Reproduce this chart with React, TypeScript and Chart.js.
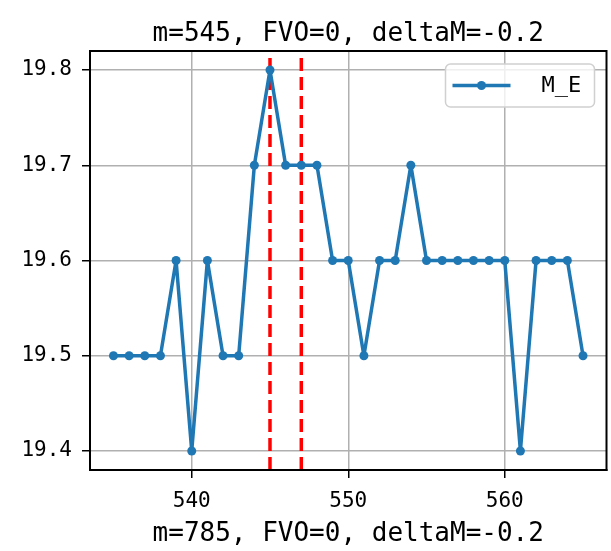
import React, { useEffect, useRef } from "react";
import { Chart, registerables } from "chart.js";

Chart.register(...registerables);

const mValues = [535, 536, 537, 538, 539, 540, 541, 542, 543, 544, 545, 546, 547, 548, 549, 550, 551, 552, 553, 554, 555, 556, 557, 558, 559, 560, 561, 562, 563, 564, 565];
const meValues = [19.5, 19.5, 19.5, 19.5, 19.6, 19.4, 19.6, 19.5, 19.5, 19.7, 19.8, 19.7, 19.7, 19.7, 19.6, 19.6, 19.5, 19.6, 19.6, 19.7, 19.6, 19.6, 19.6, 19.6, 19.6, 19.6, 19.4, 19.6, 19.6, 19.6, 19.5];
const markerLines = [545, 547];
const xTickValues = [540, 550, 560];
const yTickValues = [19.4, 19.5, 19.6, 19.7, 19.8];
const xLimits = [533.5, 566.5];
const yLimits = [19.38, 19.82];
const chartTitle = "m=545, FVO=0, deltaM=-0.2";
const xAxisTitle = "m=785, FVO=0, deltaM=-0.2";
const seriesLabel = "M_E";

const FONT = "'DejaVu Sans Mono', monospace";
const BLUE = "#1f77b4";

const framePlugin = {
  id: "frame",
  afterDatasetsDraw(chart: any) {
    const { ctx, chartArea: a } = chart;
    ctx.save();
    ctx.strokeStyle = "#000";
    ctx.lineWidth = 2;
    ctx.strokeRect(a.left, a.top, a.right - a.left, a.bottom - a.top);
    ctx.restore();
  },
};

const titlePlugin = {
  id: "areaTitle",
  afterDraw(chart: any) {
    const { ctx, chartArea: a } = chart;
    ctx.save();
    ctx.fillStyle = "#000";
    ctx.font = `26px ${FONT}`;
    ctx.textAlign = "center";
    ctx.textBaseline = "alphabetic";
    ctx.fillText(chartTitle, (a.left + a.right) / 2, 41);
    ctx.restore();
  },
};

const legendPlugin = {
  id: "boxLegend",
  afterDraw(chart: any) {
    const { ctx, chartArea: a } = chart;
    const w = 149;
    const h = 43;
    const x0 = a.right - 12 - w;
    const y0 = a.top + 13;
    ctx.save();
    ctx.beginPath();
    ctx.roundRect(x0, y0, w, h, 5);
    ctx.fillStyle = "rgba(255,255,255,0.8)";
    ctx.fill();
    ctx.strokeStyle = "#d0d0d0";
    ctx.lineWidth = 1.5;
    ctx.stroke();
    const cy = y0 + h / 2;
    ctx.beginPath();
    ctx.moveTo(x0 + 7, cy);
    ctx.lineTo(x0 + 65, cy);
    ctx.strokeStyle = BLUE;
    ctx.lineWidth = 3.5;
    ctx.stroke();
    ctx.beginPath();
    ctx.arc(x0 + 36, cy, 4.5, 0, Math.PI * 2);
    ctx.fillStyle = BLUE;
    ctx.fill();
    ctx.fillStyle = "#000";
    ctx.font = `22px ${FONT}`;
    ctx.textBaseline = "middle";
    ctx.textAlign = "left";
    ctx.fillText(chart.data.datasets[0].label, x0 + 96, cy + 1);
    ctx.restore();
  },
};

export default function App() {
  const ref = useRef<HTMLCanvasElement | null>(null);

  useEffect(() => {
    if (!ref.current) return;
    const lineData = mValues.map((m, i) => ({ x: m, y: meValues[i] }));
    const vlineSets = markerLines.map((m) => ({
      label: `m=${m}`,
      data: [
        { x: m, y: yLimits[0] },
        { x: m, y: yLimits[1] },
      ],
      borderColor: "#ff0000",
      borderWidth: 3.5,
      borderDash: [13, 6],
      pointRadius: 0,
      fill: false,
    }));
    const chart = new Chart(ref.current, {
      type: "line",
      data: {
        datasets: [
          {
            label: seriesLabel,
            data: lineData,
            borderColor: BLUE,
            backgroundColor: BLUE,
            borderWidth: 3.5,
            borderJoinStyle: "round",
            borderCapStyle: "round",
            pointRadius: 4.5,
            pointBackgroundColor: BLUE,
            pointBorderWidth: 0,
            fill: false,
            tension: 0,
          },
          ...vlineSets,
        ],
      },
      options: {
        animation: false,
        responsive: false,
        devicePixelRatio: 1,
        layout: { padding: { left: 0, right: 4, top: 51, bottom: 0 } },
        plugins: {
          legend: { display: false },
          tooltip: { enabled: false },
          title: { display: false },
        },
        scales: {
          x: {
            type: "linear",
            min: xLimits[0],
            max: xLimits[1],
            afterFit: (s: any) => {
              s.height = 81;
            },
            afterBuildTicks: (s: any) => {
              s.ticks = xTickValues.map((v) => ({ value: v }));
            },
            ticks: {
              color: "#000",
              font: { family: FONT, size: 21 },
              padding: 11,
              maxRotation: 0,
              callback: (v: any) => String(v),
            },
            grid: { color: "#b0b0b0", lineWidth: 1.5, tickColor: "#000", tickLength: 8 },
            border: { color: "#000", width: 2 },
            title: {
              display: true,
              text: xAxisTitle,
              color: "#000",
              font: { family: FONT, size: 26 },
              padding: { top: 0, bottom: 1 },
            },
          },
          y: {
            type: "linear",
            min: yLimits[0],
            max: yLimits[1],
            afterFit: (s: any) => {
              s.width = 90;
            },
            afterBuildTicks: (s: any) => {
              s.ticks = yTickValues.map((v) => ({ value: v }));
            },
            ticks: {
              color: "#000",
              font: { family: FONT, size: 21 },
              padding: 10,
              callback: (v: any) => Number(v).toFixed(1),
            },
            grid: { color: "#b0b0b0", lineWidth: 1.5, tickColor: "#000", tickLength: 8 },
            border: { color: "#000", width: 2 },
          },
        },
      },
      plugins: [framePlugin, legendPlugin, titlePlugin],
    } as any);
    return () => chart.destroy();
  }, []);

  return (
    <div style={{ position: "absolute", left: 0, top: 0, width: 611, height: 551, background: "#fff" }}>
      <canvas ref={ref} width={611} height={551} />
    </div>
  );
}
